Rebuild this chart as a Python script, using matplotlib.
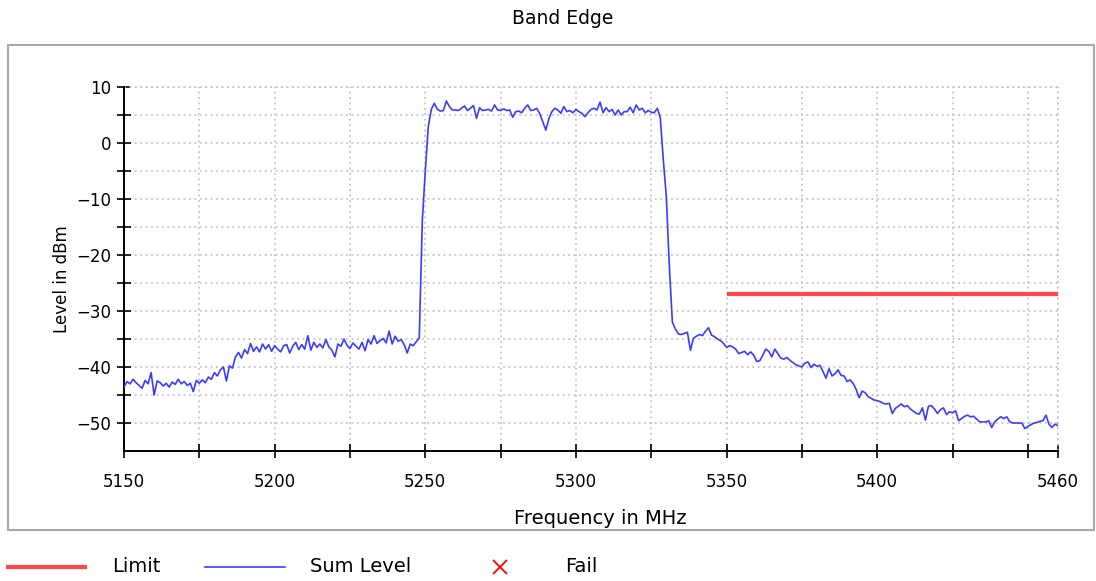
import numpy as np
import matplotlib
matplotlib.use("Agg")
import matplotlib.pyplot as plt
from matplotlib.lines import Line2D
from matplotlib.patches import Rectangle

# ---------------- data ----------------
freq_start, freq_stop = 5150, 5460
sum_level = [
    -43.6, -42.6, -43.0, -42.2, -42.8, -43.3, -43.8, -42.4, -43.0, -41.0,
    -45.0, -42.5, -42.8, -43.4, -42.9, -43.6, -42.7, -43.1, -42.2, -43.0,
    -42.6, -43.3, -42.9, -44.4, -42.4, -42.9, -42.3, -42.8, -41.8, -42.2,
    -41.0, -41.6, -40.5, -40.0, -42.5, -39.8, -40.2, -38.2, -37.4, -38.4,
    -36.9, -37.6, -35.8, -37.2, -36.4, -37.3, -35.9, -36.8, -36.0, -37.2,
    -36.2, -36.8, -37.3, -36.2, -36.0, -37.5, -36.3, -35.6, -36.9, -36.0,
    -36.8, -34.4, -37.0, -35.6, -36.5, -35.9, -36.6, -35.1, -36.4, -37.0,
    -38.2, -35.9, -36.3, -35.0, -36.1, -36.7, -35.7, -36.3, -36.8, -35.6,
    -37.1, -35.1, -35.9, -34.4, -35.8, -35.3, -34.9, -35.7, -33.6, -35.9,
    -34.5, -35.4, -35.1, -36.0, -37.5, -35.9, -36.2, -35.5, -34.8, -14.0,
    -5.0, 3.0, 6.0, 7.1, 6.0, 5.7, 5.8, 7.5, 6.5, 5.9,
    5.9, 5.8, 6.2, 6.6, 5.8, 6.2, 6.7, 4.4, 6.3, 5.8,
    5.9, 6.0, 5.7, 6.8, 5.9, 5.8, 6.1, 5.8, 5.9, 4.6,
    5.6, 5.7, 5.4, 6.2, 6.8, 5.8, 5.9, 6.2, 5.2, 3.8,
    2.3, 4.3, 5.6, 6.2, 5.9, 5.3, 6.5, 5.6, 5.8, 5.4,
    6.0, 5.6, 5.3, 4.7, 5.4, 6.0, 6.2, 5.9, 7.3, 5.4,
    6.3, 5.6, 6.0, 5.0, 5.9, 5.0, 5.6, 5.6, 6.4, 5.4,
    6.8, 5.9, 6.2, 5.4, 5.8, 5.5, 5.4, 6.2, 4.5, -3.0,
    -9.6, -22.0, -32.0, -33.2, -34.1, -34.2, -34.0, -33.8, -37.0, -34.9,
    -34.5, -34.2, -34.4, -33.6, -33.0, -34.3, -34.6, -35.0, -35.3, -35.8,
    -36.5, -36.2, -36.4, -36.8, -37.6, -37.4, -37.2, -37.8, -37.3, -37.9,
    -39.0, -38.9, -37.9, -36.8, -37.2, -38.2, -36.8, -37.6, -38.4, -38.6,
    -38.3, -38.8, -39.2, -39.6, -39.8, -40.0, -39.3, -39.1, -40.1, -39.5,
    -39.9, -39.7, -40.8, -42.0, -40.3, -41.6, -41.2, -40.5, -41.5, -41.6,
    -42.6, -42.3, -42.9, -44.0, -45.5, -44.3, -44.6, -45.3, -45.6, -45.9,
    -46.0, -46.2, -46.5, -46.6, -46.5, -48.3, -47.4, -47.0, -46.6, -47.1,
    -46.9, -47.5, -47.9, -48.3, -48.4, -47.3, -49.5, -47.0, -46.9, -47.5,
    -48.3, -47.6, -47.3, -48.5, -48.0, -48.2, -47.8, -49.6, -49.2, -48.8,
    -48.6, -48.9, -48.8, -49.3, -49.8, -49.8, -49.8, -49.6, -50.8, -49.8,
    -49.3, -48.9, -49.2, -48.9, -49.8, -50.0, -50.0, -50.0, -50.0, -51.0,
    -50.6, -50.3, -50.0, -49.9, -49.7, -49.6, -48.6, -50.2, -50.8, -50.2, -50.5,
]
sum_freq = np.arange(freq_start, freq_stop + 1)
limit_freq = [5350, 5460]
limit_level = [-27, -27]

x_ticks = [5150, 5175, 5200, 5225, 5250, 5275, 5300, 5325, 5350, 5375,
           5400, 5425, 5450, 5460]
x_labels = ["5150", "", "5200", "", "5250", "", "5300", "", "5350", "",
            "5400", "", "", "5460"]
y_ticks = [10, 5, 0, -5, -10, -15, -20, -25, -30, -35, -40, -45, -50]
y_labels = ["10", "", "0", "", "\u221210", "", "\u221220", "", "\u221230", "",
            "\u221240", "", "\u221250"]

title = "Band Edge"
xlabel = "Frequency in MHz"
ylabel = "Level in dBm"
legend_labels = ["Limit", "Sum Level", "Fail"]

# ---------------- style ----------------
BLUE = "#3c3cff"
RED = "#ff4848"
plt.rcParams["font.family"] = ["DejaVu Sans"]

W, H = 1096, 581
fig = plt.figure(figsize=(W / 100, H / 100), dpi=100)
fig.patch.set_facecolor("white")

# outer frame
fig.patches.append(Rectangle((8 / W, 1 - 530 / H), (1094 - 8) / W, (530 - 45) / H,
                             transform=fig.transFigure, fill=False,
                             edgecolor="#a8a8a8", linewidth=1.5))

ax = fig.add_axes([124 / W, 1 - 451 / H, (1058 - 124) / W, (451 - 87) / H])
ax.set_xlim(freq_start, freq_stop)
ax.set_ylim(-55, 10)

ax.plot(sum_freq, sum_level, color=BLUE, linewidth=1.2, zorder=3)
ax.plot(limit_freq, limit_level, color=RED, linewidth=3.0, solid_capstyle="butt", zorder=4)

ax.set_xticks(x_ticks)
ax.set_xticklabels(x_labels)
ax.set_yticks(y_ticks)
ax.set_yticklabels(y_labels)
ax.tick_params(axis="both", direction="inout", length=10, width=1.2,
               labelsize=12, color="black")
ax.tick_params(axis="x", pad=11)
ax.tick_params(axis="y", pad=4)

ax.grid(True, color="#c4c4c4", linestyle=(0, (1, 2)), linewidth=1.3)
ax.set_axisbelow(True)
for s in ["top", "right"]:
    ax.spines[s].set_visible(False)
for s in ["left", "bottom"]:
    ax.spines[s].set_linewidth(1.4)

# top and right dotted borders (gridlines at limits)
ax.axhline(10, color="#c4c4c4", linestyle=(0, (1, 2)), linewidth=1.3, zorder=1, clip_on=False)
ax.axvline(5460, color="#c4c4c4", linestyle=(0, (1, 2)), linewidth=1.3, zorder=1, clip_on=False)

fig.text(563 / W, 1 - 18 / H, title, ha="center", va="center", fontsize=13.5)
fig.text(600 / W, 1 - 518 / H, xlabel, ha="center", va="center", fontsize=14)
fig.text(62 / W, 1 - 279 / H, ylabel, ha="center", va="center", rotation=90, fontsize=12)

# legend
ly = 1 - 567 / H
fig.add_artist(Line2D([8 / W, 85 / W], [ly, ly], color=RED, linewidth=3.0, transform=fig.transFigure))
fig.text(112 / W, ly, legend_labels[0], ha="left", va="center", fontsize=14)
fig.add_artist(Line2D([205 / W, 285 / W], [ly, ly], color=BLUE, linewidth=1.2, transform=fig.transFigure))
fig.text(310 / W, ly, legend_labels[1], ha="left", va="center", fontsize=14)
fig.add_artist(Line2D([500 / W], [ly], color="red", marker="x", markersize=10,
                      markeredgewidth=1.3, linestyle="none", transform=fig.transFigure))
fig.text(565 / W, ly, legend_labels[2], ha="left", va="center", fontsize=14)

fig.savefig("out.png", dpi=100)
